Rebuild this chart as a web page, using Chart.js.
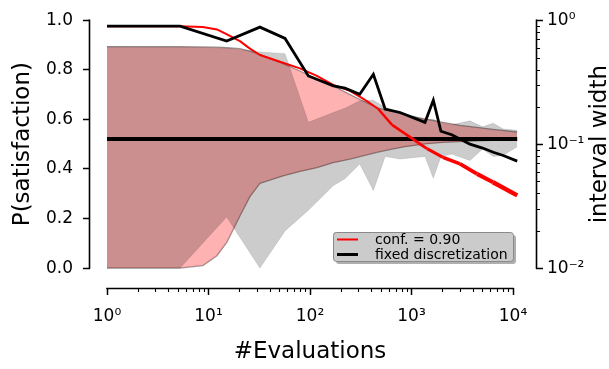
<!DOCTYPE html>
<html><head><meta charset="utf-8">
<script src="https://cdn.jsdelivr.net/npm/chart.js@4/dist/chart.umd.min.js"></script>
<style>html,body{margin:0;padding:0;background:#fff;}#wrap{width:609px;height:369px;}</style>
</head><body><div id="wrap"><canvas id="c" width="609" height="369"></canvas></div>
<script>
// ---- data ----
const confN = [1, 5.2, 8.8, 12.1, 15.2, 20.4, 25.6, 32.1, 54.2, 79.6, 117, 169, 248, 348, 468, 643, 863, 1159, 1422, 2042, 3006, 4416, 6353, 11000];
const confLower = [0, 0, 0.01, 0.05, 0.105, 0.21, 0.288, 0.342, 0.372, 0.39, 0.405, 0.425, 0.44, 0.455, 0.468, 0.48, 0.49, 0.497, 0.502, 0.507, 0.51, 0.513, 0.515, 0.517];
const confUpper = [0.893, 0.893, 0.892, 0.891, 0.889, 0.885, 0.875, 0.862, 0.825, 0.795, 0.762, 0.735, 0.70, 0.67, 0.645, 0.632, 0.618, 0.607, 0.60, 0.588, 0.576, 0.568, 0.56, 0.549];
const confWidth = [0.895, 0.895, 0.88, 0.842, 0.767, 0.678, 0.590, 0.524, 0.454, 0.409, 0.355, 0.301, 0.269, 0.228, 0.193, 0.143, 0.1215, 0.1028, 0.092, 0.0783, 0.0693, 0.0576, 0.0493, 0.0386];

const fixedN = [1, 5.25, 15.1, 32.1, 56.8, 96.4, 170, 221, 309, 421, 550, 771, 1358, 1641, 1950, 2489, 3767, 5012, 6397, 8017, 11000];
const fixedLower = [0, 0, 0.206, 0, 0.15, 0.233, 0.333, 0.36, 0.42, 0.313, 0.45, 0.44, 0.45, 0.362, 0.45, 0.46, 0.434, 0.48, 0.45, 0.455, 0.49];
const fixedUpper = [0.893, 0.892, 0.888, 0.872, 0.865, 0.588, 0.628, 0.645, 0.675, 0.677, 0.648, 0.628, 0.60, 0.60, 0.585, 0.578, 0.594, 0.57, 0.584, 0.561, 0.556];
const fixedWidth = [0.895, 0.895, 0.678, 0.879, 0.713, 0.355, 0.295, 0.283, 0.253, 0.366, 0.192, 0.18, 0.15, 0.226, 0.127, 0.119, 0.10, 0.093, 0.086, 0.081, 0.073];

const trueN = [1, 11000];
const trueP = [0.521, 0.521];

const seriesLabels = ['conf. = 0.90', 'fixed discretization'];

const xTicks = [1,2,3,4,5,6,7,8,9,10,20,30,40,50,60,70,80,90,100,200,300,400,500,600,700,800,900,1000,2000,3000,4000,5000,6000,7000,8000,9000,10000];
const xMajor = [1, 10, 100, 1000, 10000];
const xMajorLabels = ['10\u2070', '10\u00B9', '10\u00B2', '10\u00B3', '10\u2074'];
const yTicks = [0, 0.2, 0.4, 0.6, 0.8, 1.0];
const y2Ticks = [0.01,0.02,0.03,0.04,0.05,0.06,0.07,0.08,0.09,0.1,0.2,0.3,0.4,0.5,0.6,0.7,0.8,0.9,1];
const y2Major = [0.01, 0.1, 1];
const y2MajorLabels = ['10\u207B\u00B2', '10\u207B\u00B9', '10\u2070'];

const pts = (xs, ys) => xs.map((x, i) => ({x: x, y: ys[i]}));
const isIn = (arr, v) => arr.some(a => Math.abs(a - v) / a < 1e-6);
const idxOf = (arr, v) => arr.findIndex(a => Math.abs(a - v) / a < 1e-6);

Chart.defaults.font.family = "'DejaVu Sans', sans-serif";
Chart.defaults.color = '#000';

const decor = {
  id: 'decor',
  afterDraw(chart) {
    const ctx = chart.ctx, ca = chart.chartArea;
    const sx = chart.scales.x, sy = chart.scales.y, sy2 = chart.scales.y2;
    ctx.save();
    ctx.strokeStyle = '#000';
    ctx.lineWidth = 1.6;
    // trimmed spines
    ctx.beginPath();
    ctx.moveTo(sx.getPixelForValue(1) - 0.75, ca.bottom + 0.5);
    ctx.lineTo(sx.getPixelForValue(10000) + 0.75, ca.bottom + 0.5);
    ctx.moveTo(ca.left - 0.5, sy.getPixelForValue(0) + 0.75);
    ctx.lineTo(ca.left - 0.5, sy.getPixelForValue(1) - 0.75);
    ctx.moveTo(ca.right + 0.5, sy2.getPixelForValue(0.01) + 0.75);
    ctx.lineTo(ca.right + 0.5, sy2.getPixelForValue(1) - 0.75);
    ctx.stroke();
    // minor ticks
    ctx.lineWidth = 1.1;
    ctx.beginPath();
    xTicks.forEach(v => { if (!isIn(xMajor, v)) { const p = Math.round(sx.getPixelForValue(v)) + 0.5; ctx.moveTo(p, ca.bottom); ctx.lineTo(p, ca.bottom + 4); } });
    y2Ticks.forEach(v => { if (!isIn(y2Major, v)) { const p = Math.round(sy2.getPixelForValue(v)) + 0.5; ctx.moveTo(ca.right, p); ctx.lineTo(ca.right + 4, p); } });
    ctx.stroke();
    // axis titles
    ctx.fillStyle = '#000';
    ctx.font = "23px 'DejaVu Sans'";
    ctx.textAlign = 'center';
    ctx.textBaseline = 'alphabetic';
    ctx.fillText('#Evaluations', (sx.getPixelForValue(1) + sx.getPixelForValue(10000)) / 2, 358);
    ctx.save();
    ctx.translate(28.5, (sy.getPixelForValue(0) + sy.getPixelForValue(1)) / 2);
    ctx.rotate(-Math.PI / 2);
    ctx.fillText('P(satisfaction)', 0, 0);
    ctx.restore();
    ctx.save();
    ctx.translate(606, (sy2.getPixelForValue(0.01) + sy2.getPixelForValue(1)) / 2);
    ctx.rotate(-Math.PI / 2);
    ctx.fillText('interval width', 0, 0);
    ctx.restore();
    // legend
    const lx = 333, ly = 232, lw = 180, lh = 29, r = 3;
    const rr = (x, y) => { ctx.beginPath(); ctx.roundRect(x, y, lw, lh, r); };
    ctx.fillStyle = 'rgba(110,110,110,0.55)';
    rr(lx + 3, ly + 3); ctx.fill();
    ctx.fillStyle = '#cbcbcb';
    rr(lx, ly); ctx.fill();
    ctx.strokeStyle = '#8a8a8a'; ctx.lineWidth = 1;
    rr(lx + 0.5, ly + 0.5); ctx.stroke();
    ctx.lineWidth = 2; ctx.strokeStyle = '#ff0000';
    ctx.beginPath(); ctx.moveTo(337, 239.5); ctx.lineTo(358, 239.5); ctx.stroke();
    ctx.lineWidth = 3; ctx.strokeStyle = '#000';
    ctx.beginPath(); ctx.moveTo(337, 254.5); ctx.lineTo(358, 254.5); ctx.stroke();
    ctx.fillStyle = '#000';
    ctx.font = "14px 'DejaVu Sans'";
    ctx.textAlign = 'left';
    ctx.fillText(seriesLabels[0], 375, 244);
    ctx.fillText(seriesLabels[1], 375, 258.5);
    ctx.restore();
  }
};

const tickGrid = {
  display: true, drawOnChartArea: false, drawTicks: true, tickLength: 7, tickWidth: 1.5,
  tickColor: c => (c.tick && c.tick.major) ? '#000' : 'rgba(0,0,0,0)'
};

new Chart(document.getElementById('c'), {
  type: 'line',
  data: {
    datasets: [
      { label: seriesLabels[1], data: pts(fixedN, fixedWidth), yAxisID: 'y2', borderColor: '#000', borderWidth: 2.8,
        pointRadius: 0, fill: false, borderJoinStyle: 'miter' },
      { label: seriesLabels[0], data: pts(confN, confWidth), yAxisID: 'y2', borderColor: '#ff0000', borderWidth: 2,
        pointRadius: 0, fill: false, borderJoinStyle: 'round',
        segment: { borderWidth: c => { const l = Math.log10(c.p1.parsed.x); return l < 2.6 ? 2 : 2 + (l - 2.6) * 1.7; } } },
      { label: 'true', data: pts(trueN, trueP), yAxisID: 'y', borderColor: '#000', borderWidth: 4, pointRadius: 0, fill: false, borderCapStyle: 'butt' },
      { label: 'fixed upper', data: pts(fixedN, fixedUpper), yAxisID: 'y', borderColor: 'rgba(0,0,0,0.1)', borderWidth: 1,
        backgroundColor: 'rgba(0,0,0,0.2)', pointRadius: 0, fill: '+1' },
      { label: 'fixed lower', data: pts(fixedN, fixedLower), yAxisID: 'y', borderColor: 'rgba(0,0,0,0.1)', borderWidth: 1,
        pointRadius: 0, fill: false },
      { label: 'conf upper', data: pts(confN, confUpper), yAxisID: 'y', borderColor: 'rgba(95,95,95,0.6)', borderWidth: 1.3,
        backgroundColor: 'rgba(255,0,0,0.3)', pointRadius: 0, fill: '+1' },
      { label: 'conf lower', data: pts(confN, confLower), yAxisID: 'y', borderColor: 'rgba(95,95,95,0.6)', borderWidth: 1.3,
        pointRadius: 0, fill: false }
    ]
  },
  options: {
    responsive: false, animation: false, devicePixelRatio: 1,
    layout: { padding: { top: 19, left: 0, right: 0, bottom: 0 } },
    plugins: { legend: { display: false }, tooltip: { enabled: false } },
    elements: { line: { tension: 0 } },
    scales: {
      x: {
        type: 'logarithmic', min: 0.68, max: 16850,
        afterBuildTicks: s => { s.ticks = xTicks.map(v => ({ value: v, major: isIn(xMajor, v) })); },
        afterFit: s => { s.height = 81; },
        ticks: { autoSkip: false, maxRotation: 0, minRotation: 0, padding: 11, font: { size: 17 },
          callback: v => { const i = idxOf(xMajor, v); return i >= 0 ? xMajorLabels[i] : ''; } },
        grid: tickGrid, border: { display: false }
      },
      y: {
        type: 'linear', position: 'left', min: -0.0803, max: 1.0,
        afterBuildTicks: s => { s.ticks = yTicks.map(v => ({ value: v, major: true })); },
        afterFit: s => { s.width = 90; },
        ticks: { padding: 10, font: { size: 17 }, callback: v => Number(v).toFixed(1) },
        grid: tickGrid, border: { display: false }
      },
      y2: {
        type: 'logarithmic', position: 'right', min: 0.006908, max: 1,
        afterBuildTicks: s => { s.ticks = y2Ticks.map(v => ({ value: v, major: isIn(y2Major, v) })); },
        afterFit: s => { s.width = 73; },
        ticks: { autoSkip: false, padding: 4, font: { size: 17 },
          callback: v => { const i = idxOf(y2Major, v); return i >= 0 ? y2MajorLabels[i] : ''; } },
        grid: tickGrid, border: { display: false }
      }
    }
  },
  plugins: [decor]
});
</script>
</body></html>
